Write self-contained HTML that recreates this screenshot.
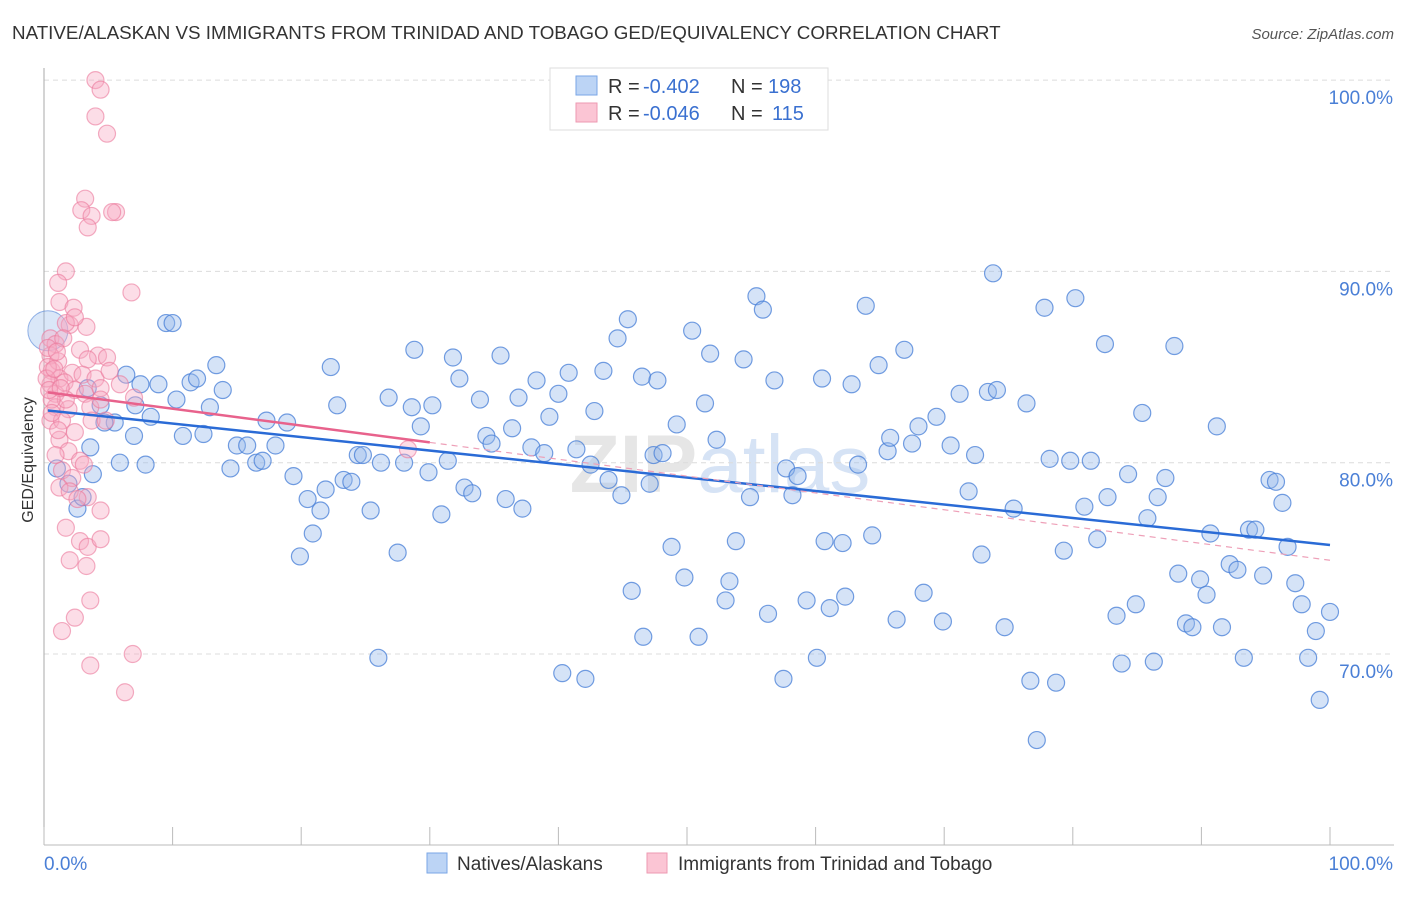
<!DOCTYPE html>
<html><head><meta charset="utf-8"><style>
body{margin:0;background:#fff;font-family:"Liberation Sans",sans-serif}
svg text{font-family:"Liberation Sans",sans-serif}
</style></head><body>
<svg id="chart" width="1406" height="892" viewBox="0 0 1406 892" xmlns="http://www.w3.org/2000/svg">
<text x="12" y="39" font-size="18.8" fill="#333">NATIVE/ALASKAN VS IMMIGRANTS FROM TRINIDAD AND TOBAGO GED/EQUIVALENCY CORRELATION CHART</text>
<text x="1394" y="39" font-size="15" fill="#555" text-anchor="end" font-style="italic">Source: ZipAtlas.com</text>
<text x="720" y="492" font-size="82" fill="#e6e6e6" text-anchor="middle" font-family="Liberation Serif"><tspan font-weight="bold">ZIP</tspan><tspan fill="#d6e3f5" font-family="Liberation Sans">atlas</tspan></text>
<g id="grid"></g>
<g id="axes"></g>
<g id="blue"></g>
<g id="pink"></g>
<g id="trend"></g>
<text transform="translate(33,460) rotate(-90)" font-size="16" fill="#333" text-anchor="middle">GED/Equivalency</text>
<g>
<rect x="550" y="68" width="278" height="62" fill="#fff" stroke="#ddd"/>
<rect x="576" y="76" width="21" height="19" fill="#bcd4f5" stroke="#7aa6e6"/>
<rect x="576" y="103" width="21" height="19" fill="#fbc5d4" stroke="#ee99b2"/>
<text x="608" y="93" font-size="20" fill="#333">R =</text>
<text x="643" y="93" font-size="20" fill="#3a70d0">-0.402</text>
<text x="731" y="93" font-size="20" fill="#333">N =</text>
<text x="768" y="93" font-size="20" fill="#3a70d0">198</text>
<text x="608" y="120" font-size="20" fill="#333">R =</text>
<text x="643" y="120" font-size="20" fill="#3a70d0">-0.046</text>
<text x="731" y="120" font-size="20" fill="#333">N =</text>
<text x="772" y="120" font-size="20" fill="#3a70d0">115</text>
</g>
<g>
<rect x="427" y="853" width="20" height="20" fill="#bcd4f5" stroke="#7aa6e6"/>
<text x="457" y="870" font-size="19" fill="#333">Natives/Alaskans</text>
<rect x="647" y="853" width="20" height="20" fill="#fbc5d4" stroke="#ee99b2"/>
<text x="678" y="870" font-size="19" fill="#333">Immigrants from Trinidad and Tobago</text>
</g>
</svg>
<script>
const yTicks=[70,80,90,100];
const yTickLabels=["70.0%","80.0%","90.0%","100.0%"];
const blueX=[9.5,10.0,6.4,7.5,8.9,11.4,11.9,13.4,13.9,10.3,12.9,8.3,7.1,5.5,3.6,7.0,10.8,12.4,14.5,15.0,15.8,16.5,17.0,17.3,18.0,18.9,19.4,20.5,21.5,20.9,19.9,21.9,23.3,23.9,25.4,27.5,26.0,22.3,22.8,24.4,24.8,26.2,26.8,28.0,28.6,28.8,29.3,30.2,29.9,30.9,31.4,31.8,32.3,32.7,33.3,33.9,34.4,34.8,35.5,35.9,36.4,36.9,37.2,37.9,38.3,38.9,39.3,40.0,40.3,40.8,41.4,42.1,42.5,42.8,43.5,43.9,44.6,44.9,45.4,45.7,46.6,47.1,46.5,47.4,47.7,48.1,48.8,49.2,49.8,50.4,50.9,51.4,51.8,52.3,53.0,53.3,53.8,54.4,54.9,55.4,55.9,56.3,56.8,57.5,57.7,58.2,58.6,59.3,60.1,60.5,60.7,61.1,62.1,62.3,62.8,63.3,63.9,64.4,64.9,65.6,65.8,66.3,66.9,67.5,68.0,68.4,69.4,69.9,70.5,71.2,71.9,72.4,72.9,73.4,73.8,74.1,74.7,75.4,76.4,76.7,77.2,77.8,78.2,78.7,79.3,79.8,80.2,80.9,81.4,81.9,82.5,82.7,83.4,83.8,84.3,84.9,85.4,85.8,86.3,86.6,87.2,87.9,88.2,88.8,89.3,89.9,90.4,90.7,91.2,91.6,92.2,92.8,93.3,93.7,94.2,94.8,95.3,95.8,96.3,96.7,97.3,97.8,98.3,98.9,99.2,100.0,1.0,1.9,2.6,3.0,3.4,3.8,4.4,4.7,5.9,7.9];
const blueY=[87.3,87.3,84.6,84.1,84.1,84.2,84.4,85.1,83.8,83.3,82.9,82.4,83.0,82.1,80.8,81.4,81.4,81.5,79.7,80.9,80.9,80.0,80.1,82.2,80.9,82.1,79.3,78.1,77.5,76.3,75.1,78.6,79.1,79.0,77.5,75.3,69.8,85.0,83.0,80.4,80.4,80.0,83.4,80.0,82.9,85.9,81.9,83.0,79.5,77.3,80.1,85.5,84.4,78.7,78.4,83.3,81.4,81.0,85.6,78.1,81.8,83.4,77.6,80.8,84.3,80.5,82.4,83.6,69.0,84.7,80.7,68.7,79.9,82.7,84.8,79.1,86.5,78.3,87.5,73.3,70.9,78.9,84.5,80.4,84.3,80.5,75.6,82.0,74.0,86.9,70.9,83.1,85.7,81.2,72.8,73.8,75.9,85.4,78.2,88.7,88.0,72.1,84.3,68.7,79.7,78.3,79.3,72.8,69.8,84.4,75.9,72.4,75.8,73.0,84.1,79.9,88.2,76.2,85.1,80.6,81.3,71.8,85.9,81.0,81.9,73.2,82.4,71.7,80.9,83.6,78.5,80.4,75.2,83.7,89.9,83.8,71.4,77.6,83.1,68.6,65.5,88.1,80.2,68.5,75.4,80.1,88.6,77.7,80.1,76.0,86.2,78.2,72.0,69.5,79.4,72.6,82.6,77.1,69.6,78.2,79.2,86.1,74.2,71.6,71.4,73.9,73.1,76.3,81.9,71.4,74.7,74.4,69.8,76.5,76.5,74.1,79.1,79.0,77.9,75.6,73.7,72.6,69.8,71.2,67.6,72.2,79.7,78.9,77.6,78.2,83.9,79.4,83.0,82.1,80.0,79.9];
const bigBlueX=[0.3];
const bigBlueY=[86.9];
const pinkX=[4.0,4.4,4.0,4.9,3.2,2.9,3.7,3.4,5.6,5.3,1.7,1.1,6.8,1.2,2.3,2.0,3.3,1.7,2.4,0.5,0.9,1.5,2.8,4.2,4.9,3.4,0.6,1.2,2.2,3.0,4.0,5.1,0.5,0.9,1.6,2.4,3.2,4.4,7.0,0.9,1.9,3.6,0.5,1.4,2.4,3.7,4.8,28.3,1.2,1.9,2.8,0.9,1.4,2.2,3.1,1.2,2.0,3.4,4.4,2.6,1.7,2.8,3.4,4.4,2.0,3.3,3.6,2.4,1.4,6.9,3.6,6.3,4.4,5.9,1.1,1.7,0.5,0.6,1.1,0.3,0.2,0.4,0.8,0.3,1.0,0.6,1.3];
const pinkY=[100.0,99.5,98.1,97.2,93.8,93.2,92.9,92.3,93.1,93.1,90.0,89.4,88.9,88.4,88.1,87.2,87.1,87.3,87.6,86.5,86.2,86.5,85.9,85.6,85.5,85.4,84.8,84.4,84.7,84.6,84.4,84.8,84.1,83.6,84.2,83.8,83.6,83.9,83.4,82.9,82.8,82.9,82.2,82.2,81.6,82.2,82.2,80.7,81.2,80.6,80.1,80.4,79.6,79.2,79.9,78.7,78.5,78.2,77.5,78.1,76.6,75.9,75.6,76.0,74.9,74.6,72.8,71.9,71.2,70.0,69.4,68.0,83.3,84.1,81.7,83.3,85.6,83.3,85.3,85.0,84.4,83.8,84.9,86.0,85.8,82.6,83.9];
const blueTrend=[82.75,-0.0705];
const pinkTrend=[83.7,-0.088];
const NS="http://www.w3.org/2000/svg";
const X0=44,X1=1330,Y70=654,PXPER10=191.3;
function xs(v){return X0+(X1-X0)*v/100;}
function ys(v){return Y70-(v-70)*PXPER10/10;}
function mk(tag,attrs,parent){const e=document.createElementNS(NS,tag);for(const k in attrs)e.setAttribute(k,attrs[k]);parent.appendChild(e);return e;}
const grid=document.getElementById('grid'),axes=document.getElementById('axes');
yTicks.forEach((t,i)=>{
 const l=mk('line',{x1:X0,x2:1394,y1:ys(t),y2:ys(t),stroke:'#dcdcdc','stroke-dasharray':'5,4'},grid);
 
 
 const tx=mk('text',{x:1393,y:ys(t)+24,'font-size':19,fill:'#4a7fd6','text-anchor':'end'},axes);
 tx.textContent=yTickLabels[i];
 
 
});
const ya=mk('line',{x1:X0,x2:X0,y1:68,y2:845,stroke:'#aaa'},axes);


const xa=mk('line',{x1:X0,x2:1394,y1:845,y2:845,stroke:'#bbb'},axes);


for(let i=0;i<=10;i++){const t=mk('line',{x1:xs(i*10),x2:xs(i*10),y1:845,y2:827,stroke:'#bbb'},axes);
 
 }
const xl0=mk('text',{x:44,y:870,'font-size':19,fill:'#4a7fd6'},axes);xl0.textContent='0.0%';


const xl1=mk('text',{x:1393,y:870,'font-size':19,fill:'#4a7fd6','text-anchor':'end'},axes);xl1.textContent='100.0%';


const bg=document.getElementById('blue'),pg=document.getElementById('pink'),tg=document.getElementById('trend');
bigBlueX.forEach((v,i)=>{const c=mk('circle',{cx:xs(v),cy:ys(bigBlueY[i]),r:20,fill:'rgba(150,185,235,0.35)',stroke:'rgba(80,130,215,0.6)'},bg);
 
 });
blueX.forEach((v,i)=>{const c=mk('circle',{cx:xs(v),cy:ys(blueY[i]),r:8.5,fill:'rgba(150,185,235,0.4)',stroke:'rgba(70,125,215,0.75)','stroke-width':1.2},bg);
 
 });
pinkX.forEach((v,i)=>{const c=mk('circle',{cx:xs(v),cy:ys(pinkY[i]),r:8.5,fill:'rgba(248,170,195,0.4)',stroke:'rgba(235,120,155,0.6)','stroke-width':1.2},pg);
 
 });
const bt=mk('line',{x1:xs(0.3),y1:ys(blueTrend[0]+blueTrend[1]*0.3),x2:xs(100),y2:ys(blueTrend[0]+blueTrend[1]*100),stroke:'#2a6bd6','stroke-width':2.5},tg);


const pd=mk('line',{x1:xs(30),y1:ys(pinkTrend[0]+pinkTrend[1]*30),x2:xs(100),y2:ys(pinkTrend[0]+pinkTrend[1]*100),stroke:'#eea0b8','stroke-width':1.2,'stroke-dasharray':'6,5'},tg);


const pt=mk('line',{x1:xs(0.3),y1:ys(pinkTrend[0]+pinkTrend[1]*0.3),x2:xs(30),y2:ys(pinkTrend[0]+pinkTrend[1]*30),stroke:'#e8628c','stroke-width':2.5},tg);


</script>
</body></html>
